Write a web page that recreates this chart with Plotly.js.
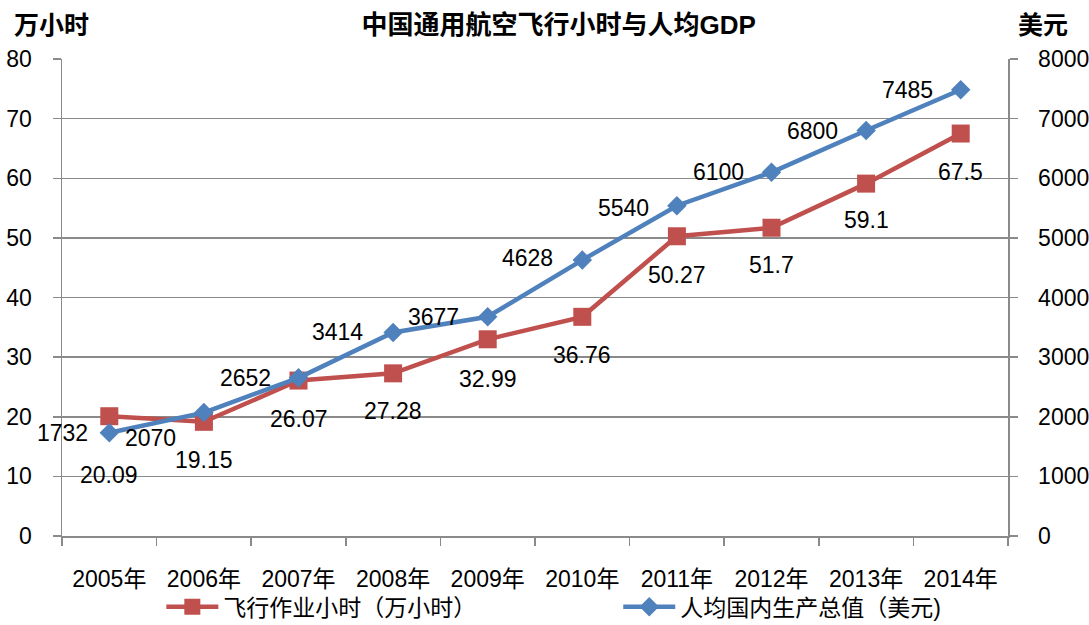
<!DOCTYPE html>
<html>
<head>
<meta charset="utf-8">
<script src="https://cdn.plot.ly/plotly-3.0.1.min.js"></script>
<style>html,body{margin:0;padding:0;background:#fff;}#chart{width:1089px;height:625px;}</style>
</head>
<body>
<div id="chart"></div>
<script>
const categories = ['2005年','2006年','2007年','2008年','2009年','2010年','2011年','2012年','2013年','2014年'];
const flightHours = [20.09, 19.15, 26.07, 27.28, 32.99, 36.76, 50.27, 51.7, 59.1, 67.5];
const gdpPerCapita = [1732, 2070, 2652, 3414, 3677, 4628, 5540, 6100, 6800, 7485];
const flightName = '飞行作业小时（万小时）';
const gdpName = '人均国内生产总值（美元)';

// label placement offsets (pixels), styling only
const redLabelShift = [-59, -38, -38, -38, -40, -38, -39, -37, -36, -38];
const blueLabelShiftY = [0, -25, 0, 0, 0, 2, -2, 0, 0, 0];
const blueLabelShiftX = [-19, -26, -26, -28, -27, -27, -26, -26, -26, -26];

const FONT = 'Liberation Sans, "Noto Sans CJK SC", sans-serif';
const RED = '#C0504D', BLUE = '#4F81BD', GRID = '#8a8a8a';

const traces = [
  {x: categories, y: flightHours, name: flightName, type: 'scatter', mode: 'lines+markers',
   line: {color: RED, width: 4.5}, marker: {symbol: 'square', size: 18, color: RED}, yaxis: 'y', legend: 'legend'},
  {x: categories, y: gdpPerCapita, name: gdpName, type: 'scatter', mode: 'lines+markers',
   line: {color: BLUE, width: 4.5}, marker: {symbol: 'diamond', size: 15, color: BLUE}, yaxis: 'y2', legend: 'legend2'}
];

const annotations = [];
categories.forEach((c, i) => {
  annotations.push({x: c, y: flightHours[i], xref: 'x', yref: 'y', text: String(flightHours[i]),
    showarrow: false, yshift: redLabelShift[i], xanchor: 'center', yanchor: 'middle',
    font: {family: FONT, size: 23, color: '#000'}});
  annotations.push({x: c, y: gdpPerCapita[i], xref: 'x', yref: 'y2', text: String(gdpPerCapita[i]),
    showarrow: false, xshift: blueLabelShiftX[i], yshift: blueLabelShiftY[i], xanchor: 'right', yanchor: 'middle',
    font: {family: FONT, size: 23, color: '#000'}});
});
annotations.push({text: '<b>万小时</b>', xref: 'paper', yref: 'paper', x: -0.053, y: 1.071,
  xanchor: 'left', yanchor: 'middle', showarrow: false, font: {family: FONT, size: 25, color: '#000'}});
annotations.push({text: '<b>美元</b>', xref: 'paper', yref: 'paper', x: 1.0085, y: 1.071,
  xanchor: 'left', yanchor: 'middle', showarrow: false, font: {family: FONT, size: 25, color: '#000'}});

const legendStyle = {orientation: 'h', xref: 'paper', yref: 'container', xanchor: 'left', y: 0.029, yanchor: 'middle',
  font: {family: FONT, size: 23, color: '#000'}, itemwidth: 52, bgcolor: 'rgba(0,0,0,0)'};

const layout = {
  width: 1089, height: 625,
  margin: {l: 62, r: 81, t: 59, b: 89},
  paper_bgcolor: '#fff', plot_bgcolor: '#fff',
  font: {family: FONT, size: 22, color: '#000'},
  title: {text: '<b>中国通用航空飞行小时与人均GDP</b>', font: {family: FONT, size: 26, color: '#000'},
    xref: 'paper', x: 0.525, xanchor: 'center', yref: 'container', y: 0.96, yanchor: 'middle'},
  xaxis: {type: 'category', range: [-0.5, 9.5], showgrid: false, showline: true, linecolor: GRID, linewidth: 1.5,
    ticks: 'outside', tickson: 'boundaries', ticklen: 8, tickcolor: GRID, tickwidth: 1.5, automargin: false,
    ticklabelstandoff: 22, tickfont: {size: 23}, zeroline: false, fixedrange: true},
  yaxis: {range: [0, 80], dtick: 10, showgrid: true, gridcolor: GRID, gridwidth: 1.5, showline: true, automargin: false,
    linecolor: GRID, linewidth: 1.5, ticks: 'outside', ticklen: 8, tickcolor: GRID, tickwidth: 1.5,
    ticklabelstandoff: 16, tickfont: {size: 23}, zeroline: false},
  yaxis2: {range: [0, 8000], dtick: 1000, overlaying: 'y', side: 'right', showgrid: false, showline: true, automargin: false,
    linecolor: GRID, linewidth: 1.5, ticks: 'outside', ticklen: 8, tickcolor: GRID, tickwidth: 1.5,
    ticklabelstandoff: 16, tickfont: {size: 23}, zeroline: false},
  showlegend: true,
  legend: Object.assign({}, legendStyle, {x: 0.105}),
  legend2: Object.assign({}, legendStyle, {x: 0.588}),
  annotations: annotations
};

Plotly.newPlot('chart', traces, layout, {displayModeBar: false, staticPlot: true});
</script>
</body>
</html>
